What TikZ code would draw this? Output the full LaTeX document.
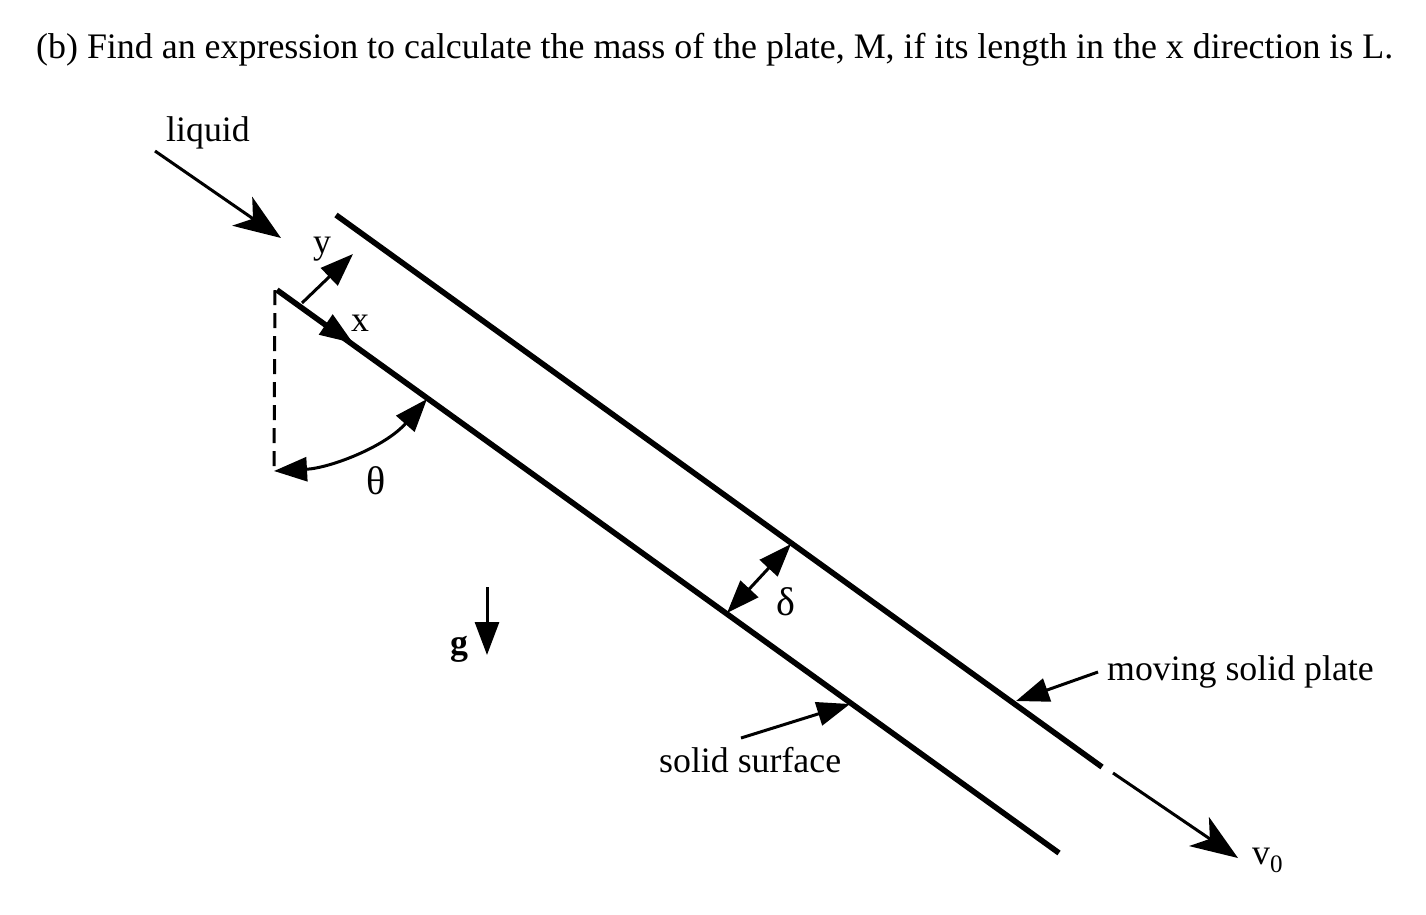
\documentclass[tikz,border=0pt]{standalone}
\usepackage{fontspec}
\setmainfont{Liberation Serif}
\usetikzlibrary{arrows.meta}

\tikzset{
    plate/.style={line width=5.6pt},
    thin arrow/.style={line width=3pt},
    fill tip/.style={thin arrow, -{Triangle[length=33pt,width=24pt]}},
    both tips/.style={thin arrow, {Triangle[length=33pt,width=24pt]}-{Triangle[length=33pt,width=24pt]}},
    big tip/.style={thin arrow, -{Stealth[length=47pt,width=35pt,inset=13pt]}},
    label/.style={anchor=base west, inner sep=0pt, font=\fontsize{35.8}{40}\selectfont},
    greek/.style={anchor=base west, inner sep=0pt, font=\fontsize{40}{44}\selectfont},
    title/.style={anchor=base west, inner sep=0pt, font=\fontsize{35.9}{40}\selectfont}
}

\begin{document}
\begin{tikzpicture}[x=1pt,y=-1pt]
    \useasboundingbox (0,0) rectangle (1426,914);

    % Heading
    \node[title] (heading) at (36,58) {(b) Find an expression to calculate the mass of the plate, M, if its length in the x direction is L.};

    % Plate and surface
    \coordinate (plateA) at (336,215);
    \coordinate (plateB) at (1102,767);
    \coordinate (wallA) at (277,290);
    \coordinate (wallB) at (1059,853);
    \draw[plate] (plateA) -- (plateB);
    \draw[plate] (wallA) -- (wallB);

    % Vertical reference line and angle
    \coordinate (vertTop) at (275,290);
    \coordinate (vertEnd) at (274,471);
    \coordinate (angleEnd) at (427,399);
    \draw[line width=3pt, dash pattern=on 15pt off 8pt] (vertTop) -- (vertEnd);
    \draw[both tips] (vertEnd) .. controls (330,468) and (385,447) .. (angleEnd);
    \node[greek] (thetaLabel) at (366,494) {θ};

    % Liquid inlet
    \node[label] (liquidLabel) at (166,141) {liquid};
    \coordinate (liquidStart) at (155,151);
    \coordinate (liquidEnd) at (281,238);
    \draw[big tip] (liquidStart) -- (liquidEnd);

    % Axes
    \coordinate (yStart) at (302,303);
    \coordinate (yEnd) at (353,254);
    \coordinate (xStart) at (300,307);
    \coordinate (xEnd) at (353,343);
    \draw[fill tip] (yStart) -- (yEnd);
    \draw[fill tip] (xStart) -- (xEnd);
    \node[label] (yLabel) at (313,253) {y};
    \node[label] (xLabel) at (351,331) {x};

    % Gap width
    \coordinate (gapLow) at (727,613);
    \coordinate (gapHigh) at (791,544);
    \draw[both tips] (gapLow) -- (gapHigh);
    \node[greek] (deltaLabel) at (776,615) {δ};

    % Gravity
    \coordinate (gravTop) at (487,587);
    \coordinate (gravEnd) at (487,655);
    \draw[fill tip] (gravTop) -- (gravEnd);
    \node[label] (gravLabel) at (450,654) {\textbf{g}};

    % Leaders
    \node[label] (plateLabel) at (1107,680) {moving solid plate};
    \node[label] (surfLabel) at (659,772) {solid surface};
    \coordinate (plateTail) at (1098,672);
    \coordinate (plateTip) at (1016,701);
    \coordinate (surfTail) at (741,738);
    \coordinate (surfTip) at (850,704);
    \draw[fill tip] (plateTail) -- (plateTip);
    \draw[fill tip] (surfTail) -- (surfTip);

    % Plate velocity
    \coordinate (velStart) at (1113,773);
    \coordinate (velEnd) at (1238,858);
    \draw[big tip] (velStart) -- (velEnd);
    \node[label] (velLabel) at (1252,864) {v\textsubscript{0}};
\end{tikzpicture}
\end{document}
